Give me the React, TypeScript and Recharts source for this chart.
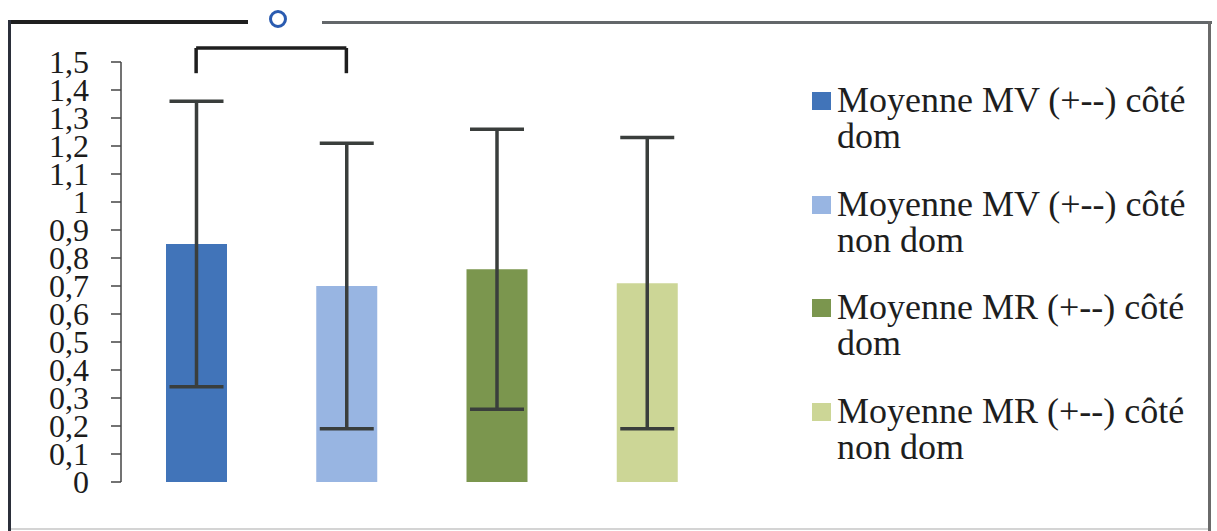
import React from "react";
import {
  BarChart,
  Bar,
  Cell,
  XAxis,
  YAxis,
  ErrorBar,
  Legend,
  ReferenceLine,
} from "recharts";

// four groups: mean movement per side, with standard deviation
const categories = ["MV dom", "MV non dom", "MR dom", "MR non dom"];
const seriesLabels = [
  "Moyenne MV (+--) côté dom",
  "Moyenne MV (+--) côté non dom",
  "Moyenne MR (+--) côté dom",
  "Moyenne MR (+--) côté non dom",
];
const means = [0.85, 0.7, 0.76, 0.71];
const stdDevs = [0.51, 0.51, 0.5, 0.52];
const barColors = ["#4174b9", "#98b5e2", "#7b964e", "#ccd696"];
const yTicks = [0, 0.1, 0.2, 0.3, 0.4, 0.5, 0.6, 0.7, 0.8, 0.9, 1, 1.1, 1.2, 1.3, 1.4, 1.5];

// significance bracket between the first two groups
const bracketTop = 1.55;
const bracketFoot = 1.46;

const serif = "'Liberation Serif', 'Times New Roman', serif";

const data = categories.map((name, i) => ({
  name,
  value: means[i],
  sd: stdDevs[i],
}));

const renderLegend = () => (
  <div style={{ fontFamily: serif, color: "#1e1e1e" }}>
    {seriesLabels.map((label, i) => (
      <div
        key={label}
        style={{ display: "flex", alignItems: "flex-start", marginBottom: 31.5 }}
      >
        <div
          style={{
            width: 19,
            height: 18,
            marginTop: 10,
            marginRight: 6,
            background: barColors[i],
            flexShrink: 0,
          }}
        />
        <div style={{ width: 360, fontSize: 36, lineHeight: "36px" }}>{label}</div>
      </div>
    ))}
  </div>
);

export default function App() {
  return (
    <div
      style={{
        position: "absolute",
        left: 0,
        top: 0,
        width: 1217,
        height: 531,
        background: "#fff",
        overflow: "hidden",
      }}
    >
      <BarChart
        width={1217}
        height={531}
        data={data}
        margin={{ top: 62, right: 495, bottom: 49, left: 61 }}
      >
        <XAxis
          dataKey="name"
          height={0}
          tick={false}
          tickLine={false}
          axisLine={{ stroke: "#8a8a8a", strokeWidth: 2 }}
        />
        <YAxis
          domain={[0, 1.5]}
          ticks={yTicks}
          interval={0}
          width={60}
          tickSize={10}
          tickMargin={22}
          axisLine={{ stroke: "#444", strokeWidth: 1.5 }}
          tickLine={{ stroke: "#444", strokeWidth: 1.5 }}
          tick={{ fill: "#1c1c1c", fontSize: 32, fontFamily: serif }}
          tickFormatter={(v: number) => String(v).replace(".", ",")}
        />
        <Legend
          layout="vertical"
          align="center"
          verticalAlign="middle"
          wrapperStyle={{ left: 812, top: 82, width: 400 }}
          content={renderLegend}
        />
        <Bar dataKey="value" barSize={61} isAnimationActive={false}>
          {data.map((d, i) => (
            <Cell key={d.name} fill={barColors[i]} />
          ))}
          <ErrorBar
            dataKey="sd"
            width={27}
            stroke="#3a3e3c"
            strokeWidth={3.5}
            isAnimationActive={false}
          />
        </Bar>
        <ReferenceLine
          segment={[
            { x: categories[0], y: bracketTop },
            { x: categories[1], y: bracketTop },
          ]}
          ifOverflow="visible"
          stroke="#1e1e1e"
          strokeWidth={3.5}
        />
        <ReferenceLine
          segment={[
            { x: categories[0], y: bracketTop },
            { x: categories[0], y: bracketFoot },
          ]}
          ifOverflow="visible"
          stroke="#1e1e1e"
          strokeWidth={3.5}
        />
        <ReferenceLine
          segment={[
            { x: categories[1], y: bracketTop },
            { x: categories[1], y: bracketFoot },
          ]}
          ifOverflow="visible"
          stroke="#1e1e1e"
          strokeWidth={3.5}
        />
      </BarChart>

      {/* frame around the figure */}
      <div style={{ position: "absolute", left: 8, top: 20, width: 240, height: 4, background: "#1f1f1f" }} />
      <div
        style={{
          position: "absolute",
          left: 269,
          top: 10,
          width: 18,
          height: 18,
          boxSizing: "border-box",
          border: "3px solid #2a5bb0",
          borderRadius: "50%",
        }}
      />
      <div style={{ position: "absolute", left: 322, top: 21, width: 890, height: 3, background: "#63676a" }} />
      <div style={{ position: "absolute", left: 1208, top: 21, width: 3, height: 510, background: "#6a6a6a" }} />
      <div style={{ position: "absolute", left: 8, top: 20, width: 3, height: 511, background: "#2b2f3a" }} />
      <div style={{ position: "absolute", left: 11, top: 528, width: 1197, height: 2, background: "#d4d4d4" }} />
    </div>
  );
}
